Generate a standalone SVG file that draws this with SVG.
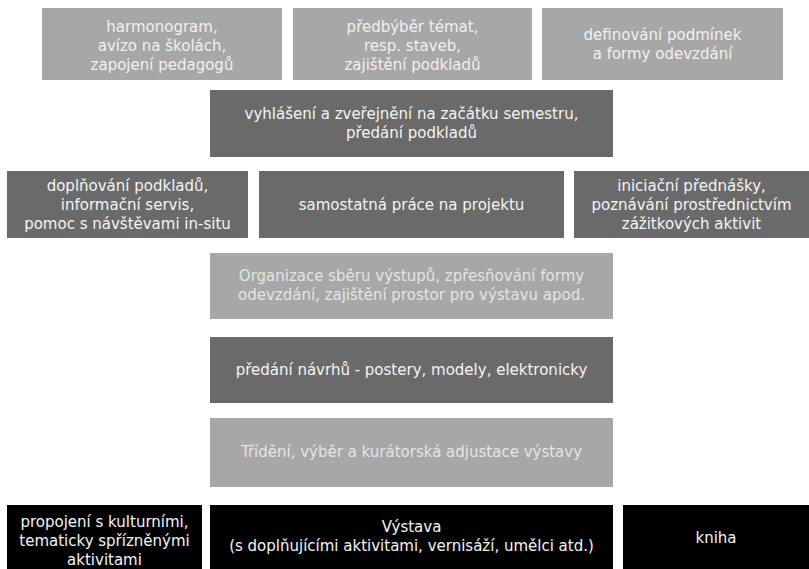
<svg xmlns="http://www.w3.org/2000/svg" width="809" height="569" viewBox="0 0 809 569">
<style>
.lt{fill:#a7a7a7}
.dk{fill:#6a6a6a}
.bk{fill:#000000}
text{font-family:"DejaVu Sans","Liberation Sans",sans-serif;font-size:15px;text-anchor:middle}
.tl{fill:#f0f0f0}
.tm{fill:#e4e4e4}
.tw{fill:#f4f4f4}
</style>
<rect x="0" y="0" width="809" height="569" fill="#ffffff"/>
<g id="connectors"/>
<g id="n1"><rect class="lt" x="42" y="8" width="240" height="72"/>
<text class="tl" x="162" y="32">harmonogram,</text>
<text class="tl" x="162" y="51">avízo na školách,</text>
<text class="tl" x="162" y="70">zapojení pedagogů</text></g>
<g id="n2"><rect class="lt" x="293" y="8" width="239" height="72"/>
<text class="tl" x="412.5" y="32">předbýběr témat,</text>
<text class="tl" x="412.5" y="51">resp. staveb,</text>
<text class="tl" x="412.5" y="70">zajištění podkladů</text></g>
<g id="n3"><rect class="lt" x="542" y="8" width="241" height="72"/>
<text class="tl" x="662.5" y="40">definování podmínek</text>
<text class="tl" x="662.5" y="59">a formy odevzdání</text></g>
<g id="n4"><rect class="dk" x="210" y="90" width="403" height="67"/>
<text class="tw" x="411.5" y="119">vyhlášení a zveřejnění na začátku semestru,</text>
<text class="tw" x="411.5" y="138">předání podkladů</text></g>
<g id="n5"><rect class="dk" x="7" y="171" width="241" height="67"/>
<text class="tw" x="127.5" y="191">doplňování podkladů,</text>
<text class="tw" x="127.5" y="210">informační servis,</text>
<text class="tw" x="127.5" y="229">pomoc s návštěvami in-situ</text></g>
<g id="n6"><rect class="dk" x="259" y="171" width="305" height="67"/>
<text class="tw" x="411.5" y="210">samostatná práce na projektu</text></g>
<g id="n7"><rect class="dk" x="574" y="171" width="235" height="67"/>
<text class="tw" x="691.5" y="191">iniciační přednášky,</text>
<text class="tw" x="691.5" y="210">poznávání prostřednictvím</text>
<text class="tw" x="691.5" y="229">zážitkových aktivit</text></g>
<g id="n8"><rect class="lt" x="210" y="253" width="403" height="66"/>
<text class="tm" x="411.5" y="281">Organizace sběru výstupů, zpřesňování formy</text>
<text class="tm" x="411.5" y="300">odevzdání, zajištění prostor pro výstavu apod.</text></g>
<g id="n9"><rect class="dk" x="210" y="337" width="403" height="66"/>
<text class="tw" x="411.5" y="375">předání návrhů - postery, modely, elektronicky</text></g>
<g id="n10"><rect class="lt" x="210" y="418" width="403" height="69"/>
<text class="tm" x="411.5" y="457">Třídění, výběr a kurátorská adjustace výstavy</text></g>
<g id="n11"><rect class="bk" x="7" y="505" width="195" height="64"/>
<text class="tw" x="104.5" y="527">propojení s kulturními,</text>
<text class="tw" x="104.5" y="546">tematicky spřízněnými</text>
<text class="tw" x="104.5" y="565">aktivitami</text></g>
<g id="n12"><rect class="bk" x="210" y="505" width="403" height="64"/>
<text class="tw" x="411.5" y="532">Výstava</text>
<text class="tw" x="411.5" y="551">(s doplňujícími aktivitami, vernisáží, umělci atd.)</text></g>
<g id="n13"><rect class="bk" x="623" y="505" width="186" height="64"/>
<text class="tw" x="716" y="543">kniha</text></g>
</svg>
